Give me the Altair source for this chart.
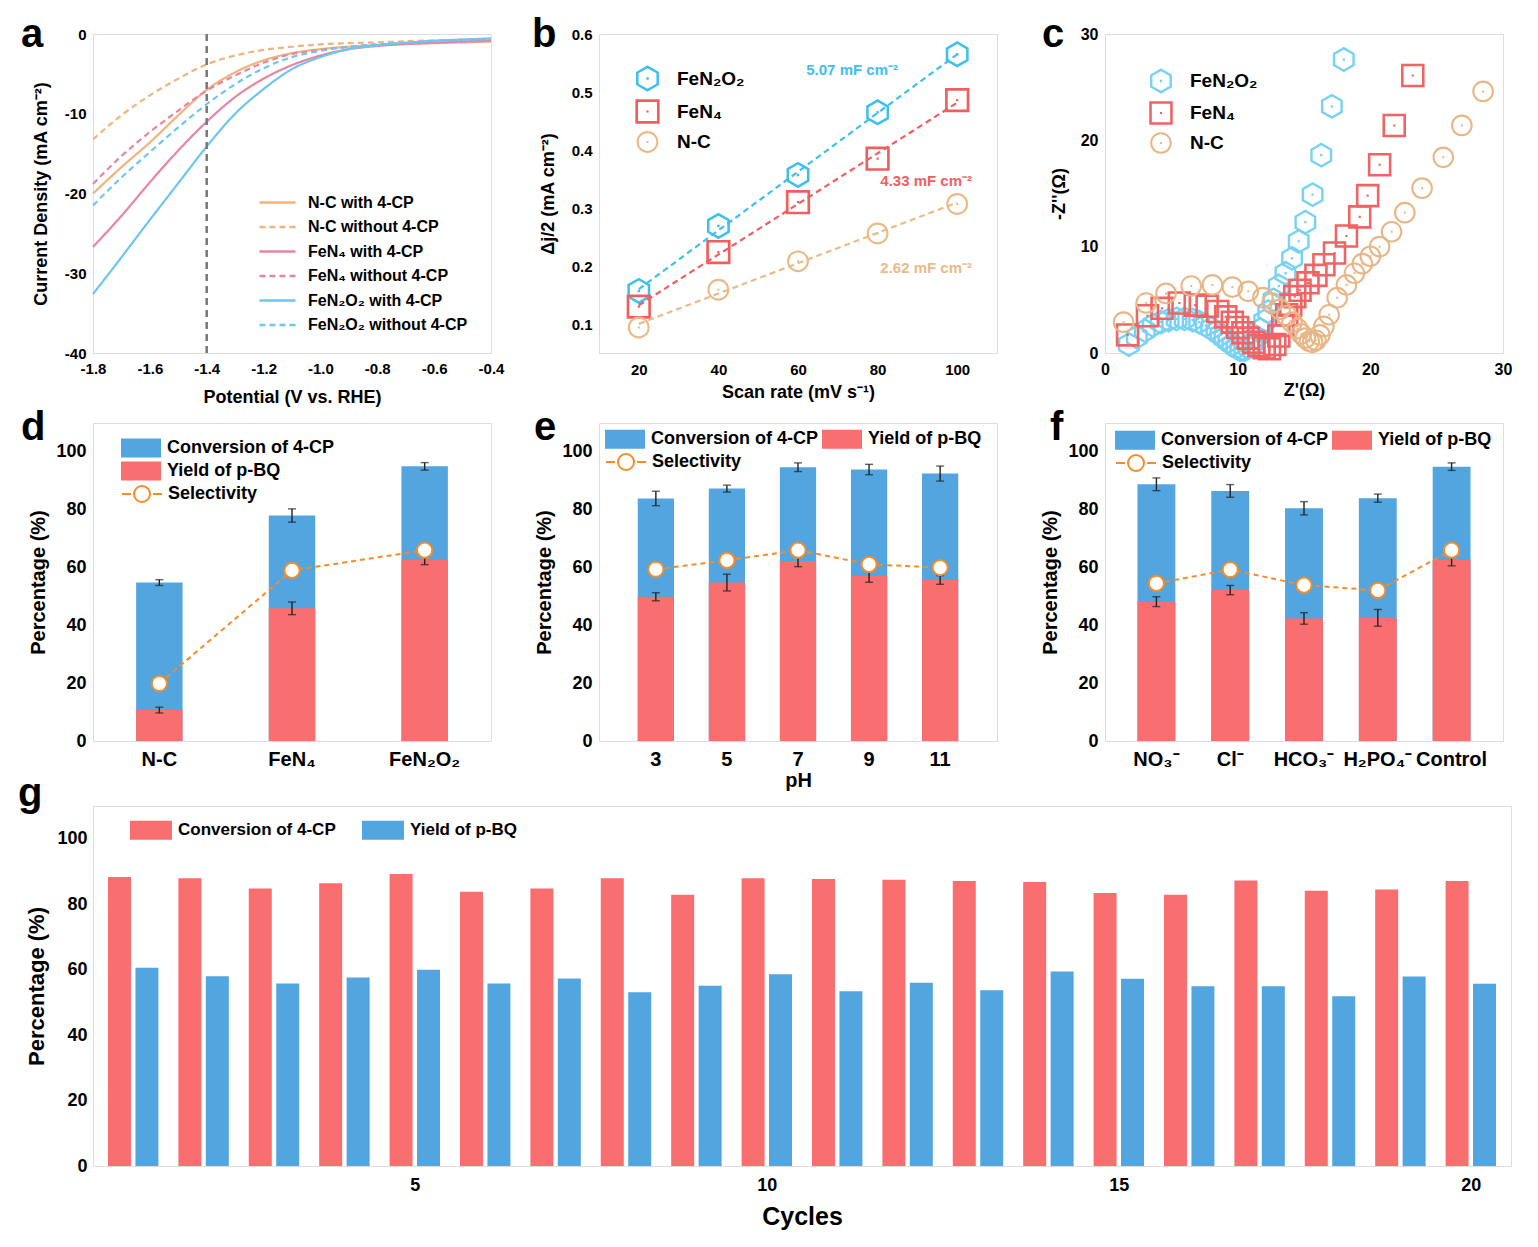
import altair as alt
import pandas as pd

FONT = "Liberation Sans"
BLACK = "#000000"
BLUE = "#52A5DF"
RED = "#F96E6F"
ORANGE = "#F58C28"

# hollow marker outlines drawn as filled rings (outer path clockwise, inner path reversed) plus a centre dot
DOT = "M-0.09,-0.09H0.09V0.09H-0.09Z"
HEX_RING = ("M0,-1L0.866,-0.5L0.866,0.5L0,1L-0.866,0.5L-0.866,-0.5Z"
            "M0,-0.78L-0.675,-0.39L-0.675,0.39L0,0.78L0.675,0.39L0.675,-0.39Z" + DOT)
SQ_RING = "M-1,-1H1V1H-1ZM-0.78,-0.78V0.78H0.78V-0.78Z" + DOT
CIRC_RING = ("M-1,0A1,1 0 1,1 1,0A1,1 0 1,1 -1,0Z"
             "M-0.8,0A0.8,0.8 0 1,0 0.8,0A0.8,0.8 0 1,0 -0.8,0Z" + DOT)
LINE_SYM = "M-1.5,0H1.5"
BAR_SYM = "M-2,-0.95H2V0.95H-2Z"
BAR_SYM_G = "M-2.1,-0.95H2.1V0.95H-2.1Z"
SEL_SYM = "M-2,0H-1.1M-0.8,0A0.8,0.8 0 1,0 0.8,0A0.8,0.8 0 1,0 -0.8,0M1.1,0H2"

letters = ["a", "b", "c", "d", "e", "f", "g"]

# ---------------- panel a : LSV ----------------
potential = [-1.8, -1.7, -1.6, -1.5, -1.4, -1.3, -1.2, -1.1, -1.0, -0.9, -0.8, -0.7, -0.6, -0.5, -0.4]
a_nc_with = [-20.0, -16.7, -13.6, -10.2, -7.0, -4.8, -3.3, -2.4, -1.9, -1.6, -1.4, -1.25, -1.15, -1.05, -0.95]
a_nc_without = [-13.2, -10.2, -7.7, -5.6, -3.8, -2.7, -2.0, -1.6, -1.3, -1.15, -1.05, -0.9, -0.8, -0.7, -0.65]
a_fen4_with = [-26.7, -22.8, -18.6, -14.6, -11.0, -7.9, -5.6, -3.9, -2.7, -1.9, -1.5, -1.25, -1.1, -0.95, -0.85]
a_fen4_without = [-18.8, -15.3, -12.3, -9.6, -7.1, -5.2, -3.6, -2.5, -2.0, -1.6, -1.35, -1.2, -1.05, -0.95, -0.85]
a_fen2o2_with = [-32.6, -28.0, -23.3, -18.7, -14.1, -10.0, -6.9, -4.4, -2.9, -1.9, -1.4, -1.1, -0.85, -0.7, -0.55]
a_fen2o2_without = [-21.5, -18.0, -14.8, -11.7, -8.8, -6.3, -4.3, -2.9, -2.1, -1.6, -1.3, -1.1, -0.9, -0.75, -0.65]
a_series = ["N-C with 4-CP", "N-C without 4-CP", "FeN₄ with 4-CP", "FeN₄ without 4-CP",
            "FeN₂O₂ with 4-CP", "FeN₂O₂ without 4-CP"]
a_colors = ["#F2B47C", "#F2B47C", "#E886A2", "#E886A2", "#6EC6F0", "#6EC6F0"]
a_dash = [[1, 0], [6, 4], [1, 0], [6, 4], [1, 0], [6, 4]]
ref_potential = [-1.4]

# ---------------- panel b : Cdl ----------------
b_rate = [20, 40, 60, 80, 100]
b_fen2o2 = [0.157, 0.269, 0.357, 0.465, 0.565]
b_fen4 = [0.130, 0.224, 0.310, 0.385, 0.486]
b_nc = [0.094, 0.159, 0.208, 0.256, 0.307]
bc_series = ["FeN₂O₂", "FeN₄", "N-C"]
b_colors = ["#3DC0EF", "#F05F5F", "#EBBA88"]
b_ann_text = ["5.07 mF cm⁻²", "4.33 mF cm⁻²", "2.62 mF cm⁻²"]
b_ann_x = [73.6, 92.2, 92.2]
b_ann_y = [0.538, 0.347, 0.197]

# ---------------- panel c : Nyquist ----------------
c_fen2o2_x = [1.8, 2.4, 3.0, 3.6, 4.2, 4.8, 5.4, 6.0, 6.6, 7.1, 7.6, 8.0, 8.4, 8.7, 9.0, 9.3, 9.6, 9.9,
              10.2, 10.5, 10.8, 11.1, 11.4, 11.7, 12.0, 12.3, 12.7, 13.1, 13.6, 14.1, 14.6, 15.1, 15.65,
              16.3, 17.1, 18.0]
c_fen2o2_y = [0.8, 1.5, 2.1, 2.6, 2.9, 3.1, 3.2, 3.2, 3.1, 2.9, 2.6, 2.3, 2.0, 1.7, 1.4, 1.1, 0.8, 0.5,
              0.3, 0.3, 0.5, 0.9, 1.5, 2.2, 3.0, 3.9, 5.0, 6.3, 7.5, 8.9, 10.5, 12.3, 14.9,
              18.6, 23.2, 27.6]
c_fen4_x = [1.7, 3.2, 4.3, 5.6, 6.8, 7.7, 8.5, 9.1, 9.6, 10.0, 10.4, 10.8, 11.2, 11.6, 12.0, 12.4, 12.8,
            13.1, 13.4, 13.7, 14.0, 14.3, 14.7, 15.3, 15.9, 16.5, 17.3, 18.2, 19.2, 19.8, 20.7, 21.8, 23.2]
c_fen4_y = [1.7, 3.5, 4.2, 4.7, 4.5, 4.4, 3.9, 3.4, 2.9, 2.4, 1.9, 1.4, 1.0, 0.7, 0.5, 0.4, 0.8,
            1.6, 2.6, 3.6, 4.5, 5.3, 5.9, 6.6, 7.3, 8.3, 9.4, 11.0, 12.8, 14.8, 17.7, 21.4, 26.1]
c_nc_x = [1.4, 3.1, 4.6, 6.5, 8.1, 9.6, 10.8, 11.9, 12.6, 13.2, 13.7, 14.1, 14.5, 14.8, 15.1, 15.4, 15.65,
          15.9, 16.2, 16.5, 16.9, 17.5, 18.2, 18.8, 19.4, 20.0, 20.7, 21.6, 22.6, 23.9, 25.5, 26.9, 28.5]
c_nc_y = [2.9, 4.7, 5.6, 6.3, 6.4, 6.2, 5.8, 5.2, 4.7, 4.1, 3.5, 2.9, 2.3, 1.8, 1.4, 1.1, 1.0,
          1.2, 1.7, 2.5, 3.6, 5.2, 6.4, 7.5, 8.4, 9.1, 10.0, 11.4, 13.2, 15.5, 18.4, 21.4, 24.6]
c_colors = ["#78D2F5", "#F06464", "#E8B687"]

# ---------------- panels d, e, f ----------------
MEAS = ["Conversion of 4-CP", "Yield of p-BQ"]
d_cats = ["N-C", "FeN₄", "FeN₂O₂"]
d_conv = [54.8, 78.0, 95.0]
d_conv_err = [1.0, 2.3, 1.3]
d_yield = [10.7, 45.9, 62.7]
d_yield_err = [1.0, 2.2, 1.7]
d_sel = [19.9, 59.0, 66.0]

e_cats = ["3", "5", "7", "9", "11"]
e_conv = [83.9, 87.3, 94.7, 93.9, 92.5]
e_conv_err = [2.5, 1.2, 1.5, 1.8, 2.6]
e_yield = [49.9, 54.8, 62.3, 57.1, 55.7]
e_yield_err = [1.4, 2.9, 2.0, 2.2, 1.5]
e_sel = [59.4, 62.5, 66.0, 61.1, 60.0]

f_cats = ["NO₃⁻", "Cl⁻", "HCO₃⁻", "H₂PO₄⁻", "Control"]
f_conv = [88.8, 86.5, 80.5, 84.0, 94.9]
f_conv_err = [2.2, 2.2, 2.3, 1.4, 1.3]
f_yield = [48.2, 52.2, 42.4, 42.6, 62.6]
f_yield_err = [1.7, 1.6, 2.0, 2.9, 2.0]
f_sel = [54.5, 59.3, 53.9, 52.1, 66.0]

# ---------------- panel g : cycles ----------------
g_cycles = list(range(1, 21))
g_conv = [88.3, 87.9, 84.8, 86.4, 89.2, 83.8, 84.8, 87.9, 82.9, 87.9,
          87.7, 87.5, 87.1, 86.8, 83.4, 82.9, 87.2, 84.1, 84.5, 87.1]
g_yield = [60.6, 58.0, 55.8, 57.6, 60.0, 55.8, 57.3, 53.1, 55.1, 58.6,
           53.4, 56.0, 53.7, 59.4, 57.2, 54.9, 54.9, 51.9, 57.9, 55.7]
G_MEAS = ["Conversion of 4-CP", "Yield of p-BQ"]

MINUS_FIX = "replace(datum.label, '\u2212', '-')"


def ax(title, values=None, fmt=None, lab=15, tit=18, lp=7, tp=10, expr=None, angle=None):
    kw = dict(title=title, labelFont=FONT, labelFontSize=lab, labelFontWeight="bold", labelColor=BLACK,
              titleFont=FONT, titleFontSize=tit, titleFontWeight="bold", titleColor=BLACK,
              domain=False, ticks=False, grid=False, labelPadding=lp, titlePadding=tp,
              labelFlush=False, labelOverlap=False, labelBound=False)
    if values is not None:
        kw["values"] = values
    if fmt is not None:
        kw["format"] = fmt
    if expr is not None:
        kw["labelExpr"] = expr
    if angle is not None:
        kw["labelAngle"] = angle
    return alt.Axis(**kw)


def leg(**kw):
    base = dict(title=None, orient="none", labelFont=FONT, labelFontWeight="bold", labelColor=BLACK,
                padding=0, labelLimit=400)
    base.update(kw)
    return alt.Legend(**base)


def letter(ch, dx, dy):
    return alt.Chart(pd.DataFrame({"t": [ch]})).mark_text(
        font=FONT, fontSize=40, fontWeight="bold", align="left", baseline="alphabetic", color=BLACK
    ).encode(text="t:N", x=alt.value(dx), y=alt.value(dy))


# ---------- build a ----------
rows = []
for s, vals in zip(a_series, [a_nc_with, a_nc_without, a_fen4_with, a_fen4_without,
                              a_fen2o2_with, a_fen2o2_without]):
    for p, v in zip(potential, vals):
        rows.append({"pot": p, "j": v, "series": s})
df_a = pd.DataFrame(rows)
leg_a = leg(legendX=171, legendY=155, labelFontSize=16, symbolType=LINE_SYM, symbolSize=576,
            symbolStrokeWidth=2.5, rowPadding=2.5, labelOffset=17)
xa = alt.X("pot:Q", scale=alt.Scale(domain=[-1.8, -0.4], nice=False, zero=False),
           axis=ax("Potential (V vs. RHE)", values=[-1.8, -1.6, -1.4, -1.2, -1.0, -0.8, -0.6, -0.4],
                   fmt=".1f", expr=MINUS_FIX, lab=15, tit=18, lp=8, tp=12))
ya = alt.Y("j:Q", scale=alt.Scale(domain=[-40, 0], nice=False),
           axis=ax("Current Density (mA cm⁻²)", values=[-40, -30, -20, -10, 0], expr=MINUS_FIX,
                   lab=15, tit=18, lp=7, tp=14))
lines_a = alt.Chart(df_a).mark_line(strokeWidth=2.2, interpolate="monotone").encode(
    x=xa, y=ya,
    color=alt.Color("series:N", scale=alt.Scale(domain=a_series, range=a_colors), legend=leg_a),
    strokeDash=alt.StrokeDash("series:N", scale=alt.Scale(domain=a_series, range=a_dash), legend=leg_a),
)
vline = alt.Chart(pd.DataFrame({"pot": ref_potential})).mark_rule(
    color="#777777", strokeDash=[7, 5], strokeWidth=2.5).encode(x="pot:Q")
panel_a = alt.layer(lines_a, vline, letter(letters[0], -72, 13)).properties(width=398, height=319)


def marker_layer(df, xenc, yenc, colors, sizes, lg):
    sc = alt.Scale(domain=bc_series, range=colors)
    pts = alt.Chart(df).mark_point(filled=True, strokeWidth=0, opacity=1).encode(
        x=xenc, y=yenc,
        color=alt.Color("series:N", scale=sc, legend=lg),
        shape=alt.Shape("series:N", scale=alt.Scale(domain=bc_series, range=[HEX_RING, SQ_RING, CIRC_RING]),
                        legend=lg),
        size=alt.Size("sz:O", scale=alt.Scale(domain=bc_series, range=sizes), legend=None),
    )
    return pts, sc


# ---------- build b ----------
rows = []
for s, vals in zip(bc_series, [b_fen2o2, b_fen4, b_nc]):
    for r, v in zip(b_rate, vals):
        rows.append({"rate": r, "val": v, "series": s, "sz": s})
df_b = pd.DataFrame(rows)
leg_b = leg(legendX=35, legendY=31, labelFontSize=19, symbolSize=480, symbolStrokeWidth=0,
            rowPadding=7, labelOffset=16)
xb = alt.X("rate:Q", scale=alt.Scale(domain=[10, 110], nice=False, zero=False),
           axis=ax("Scan rate (mV s⁻¹)", values=[20, 40, 60, 80, 100], lp=9, tp=6))
yb = alt.Y("val:Q", scale=alt.Scale(domain=[0.05, 0.6], nice=False, zero=False),
           axis=ax("Δj/2 (mA cm⁻²)", values=[0.1, 0.2, 0.3, 0.4, 0.5, 0.6], fmt=".1f", lp=7, tp=14))
pts_b, col_b = marker_layer(df_b, xb, yb, b_colors, [700, 480, 540], leg_b)
fit_b = alt.Chart(df_b).transform_regression("rate", "val", groupby=["series"]).mark_line(
    strokeDash=[6, 4], strokeWidth=2.2).encode(
    x="rate:Q", y="val:Q", stroke=alt.Stroke("series:N", scale=col_b, legend=None))
ann_b = alt.Chart(pd.DataFrame({"rate": b_ann_x, "val": b_ann_y, "label": b_ann_text, "series": bc_series})).mark_text(
    font=FONT, fontSize=15, fontWeight="bold").encode(
    x="rate:Q", y="val:Q", text="label:N", fill=alt.Fill("series:N", scale=col_b, legend=None))
panel_b = alt.layer(pts_b, fit_b, ann_b, letter(letters[1], -67, 13)).properties(width=398, height=319)

# ---------- build c ----------
rows = []
for s, xs, ys in zip(bc_series, [c_fen2o2_x, c_fen4_x, c_nc_x], [c_fen2o2_y, c_fen4_y, c_nc_y]):
    for xv, yv in zip(xs, ys):
        rows.append({"zr": xv, "zi": yv, "series": s, "sz": s})
df_c = pd.DataFrame(rows)
leg_c = leg(legendX=43, legendY=34, labelFontSize=19, symbolSize=480, symbolStrokeWidth=0,
            rowPadding=7, labelOffset=16)
xc = alt.X("zr:Q", scale=alt.Scale(domain=[0, 30], nice=False),
           axis=ax("Z'(Ω)", values=[0, 10, 20, 30], lab=16, lp=8, tp=4))
yc = alt.Y("zi:Q", scale=alt.Scale(domain=[0, 30], nice=False),
           axis=ax("-Z''(Ω)", values=[0, 10, 20, 30], lab=16, lp=7, tp=12))
pts_c, col_c = marker_layer(df_c, xc, yc, c_colors, [640, 470, 500], leg_c)
panel_c = alt.layer(pts_c, letter(letters[2], -63, 13)).properties(width=398, height=319)


# ---------- bar panels ----------
def bar_panel(cats, conv, conv_err, yld, yld_err, sel, pin, pout, xtitle, leg_bar, leg_sel, let):
    rows = []
    for c, v, e in zip(cats, conv, conv_err):
        rows.append({"cat": c, "measure": MEAS[0], "val": v, "err": e})
    for c, v, e in zip(cats, yld, yld_err):
        rows.append({"cat": c, "measure": MEAS[1], "val": v, "err": e})
    df = pd.DataFrame(rows)
    xenc = alt.X("cat:N", sort=cats, scale=alt.Scale(paddingInner=pin, paddingOuter=pout),
                 axis=ax(xtitle, lab=20, tit=20, lp=8, tp=1, angle=0))
    yenc = alt.Y("val:Q", stack=None, scale=alt.Scale(domain=[0, 110], nice=False),
                 axis=ax("Percentage (%)", values=[0, 20, 40, 60, 80, 100], lab=18, tit=20, lp=7, tp=7))
    bars = alt.Chart(df).mark_bar().encode(
        x=xenc, y=yenc,
        color=alt.Color("measure:N", scale=alt.Scale(domain=MEAS, range=[BLUE, RED]), legend=leg_bar))
    err = alt.Chart(df).transform_calculate(lo="datum.val - datum.err", hi="datum.val + datum.err")
    rule = err.mark_rule(color="#222222", strokeWidth=1.4).encode(x=xenc, y="lo:Q", y2="hi:Q")
    cap_lo = err.mark_tick(color="#222222", thickness=1.4, size=8).encode(x=xenc, y="lo:Q")
    cap_hi = err.mark_tick(color="#222222", thickness=1.4, size=8).encode(x=xenc, y="hi:Q")
    dfs = pd.DataFrame({"cat": cats, "val": sel, "lab": ["Selectivity"] * len(cats)})
    line = alt.Chart(dfs).mark_line(color=ORANGE, strokeDash=[5, 4], strokeWidth=2).encode(x=xenc, y="val:Q")
    pts = alt.Chart(dfs).mark_point(filled=True, fill="white", strokeWidth=2, size=230, opacity=1).encode(
        x=xenc, y="val:Q",
        stroke=alt.Stroke("lab:N", scale=alt.Scale(domain=["Selectivity"], range=[ORANGE]), legend=leg_sel))
    return alt.layer(bars, rule, cap_lo, cap_hi, line, pts, let).properties(width=398, height=318)


def bar_leg(x, y, horizontal):
    kw = dict(legendX=x, legendY=y, labelFontSize=18, symbolType=BAR_SYM, symbolSize=400,
              symbolStrokeWidth=0, labelOffset=16, rowPadding=3)
    if horizontal:
        kw.update(direction="horizontal", columns=2, columnPadding=3)
    return leg(**kw)


def sel_leg(x, y):
    return leg(legendX=x, legendY=y, labelFontSize=18, symbolType=SEL_SYM, symbolSize=400,
               symbolStrokeWidth=2, symbolFillColor="white", labelOffset=15)


panel_d = bar_panel(d_cats, d_conv, d_conv_err, d_yield, d_yield_err, d_sel, 0.65, 0.325, None,
                    bar_leg(38, 15, False), sel_leg(38, 60), letter(letters[3], -72, 17))
panel_e = bar_panel(e_cats, e_conv, e_conv_err, e_yield, e_yield_err, e_sel, 0.49, 0.545, "pH",
                    bar_leg(16, 6, True), sel_leg(16, 28), letter(letters[4], -65, 17))
panel_f = bar_panel(f_cats, f_conv, f_conv_err, f_yield, f_yield_err, f_sel, 0.487, 0.44, None,
                    bar_leg(20, 7, True), sel_leg(20, 29), letter(letters[5], -55, 17))

# ---------- build g ----------
rows = []
for c, v in zip(g_cycles, g_conv):
    rows.append({"cycle": c, "series": G_MEAS[0], "val": v})
for c, v in zip(g_cycles, g_yield):
    rows.append({"cycle": c, "series": G_MEAS[1], "val": v})
df_g = pd.DataFrame(rows)
leg_g = leg(legendX=48, legendY=14, labelFontSize=17, symbolType=BAR_SYM_G, symbolSize=400,
            symbolStrokeWidth=0, direction="horizontal", columns=2, columnPadding=26, labelOffset=17)
bars_g = alt.Chart(df_g).transform_calculate(
    xpos="datum.cycle + (datum.series == 'Conversion of 4-CP' ? -0.195 : 0.195)"
).mark_bar(size=23, orient="vertical").encode(
    x=alt.X("xpos:Q", scale=alt.Scale(domain=[0.5, 20.5], nice=False, zero=False),
            axis=ax("Cycles", values=[5, 10, 15, 20], lab=18, tit=25, lp=10, tp=10)),
    y=alt.Y("val:Q", stack=None, scale=alt.Scale(domain=[0, 110], nice=False),
            axis=ax("Percentage (%)", values=[0, 20, 40, 60, 80, 100], lab=18, tit=22, lp=6, tp=8)),
    color=alt.Color("series:N", scale=alt.Scale(domain=G_MEAS, range=[RED, BLUE]), legend=leg_g),
)
panel_g = alt.layer(bars_g, letter(letters[6], -75, 0)).properties(width=1418, height=360)

IND = dict(color="independent", shape="independent", size="independent",
           strokeDash="independent", stroke="independent", fill="independent")

row1 = alt.hconcat(panel_a, panel_b, panel_c, spacing=108, bounds="flush").resolve_scale(**IND).resolve_legend(**IND)
row2 = alt.hconcat(panel_d, panel_e, panel_f, spacing=108, bounds="flush").resolve_scale(**IND).resolve_legend(**IND)
top = alt.vconcat(row1, row2, spacing=0).resolve_scale(**IND).resolve_legend(**IND)
chart = alt.vconcat(top, panel_g, spacing=-18).resolve_scale(**IND).resolve_legend(**IND).properties(
    padding={"left": 9, "top": 6, "right": 5, "bottom": 5}
).configure_view(stroke=BLACK, strokeWidth=2).configure(font=FONT)

chart.save("out.html", embed_options={"renderer": "svg", "actions": False})
